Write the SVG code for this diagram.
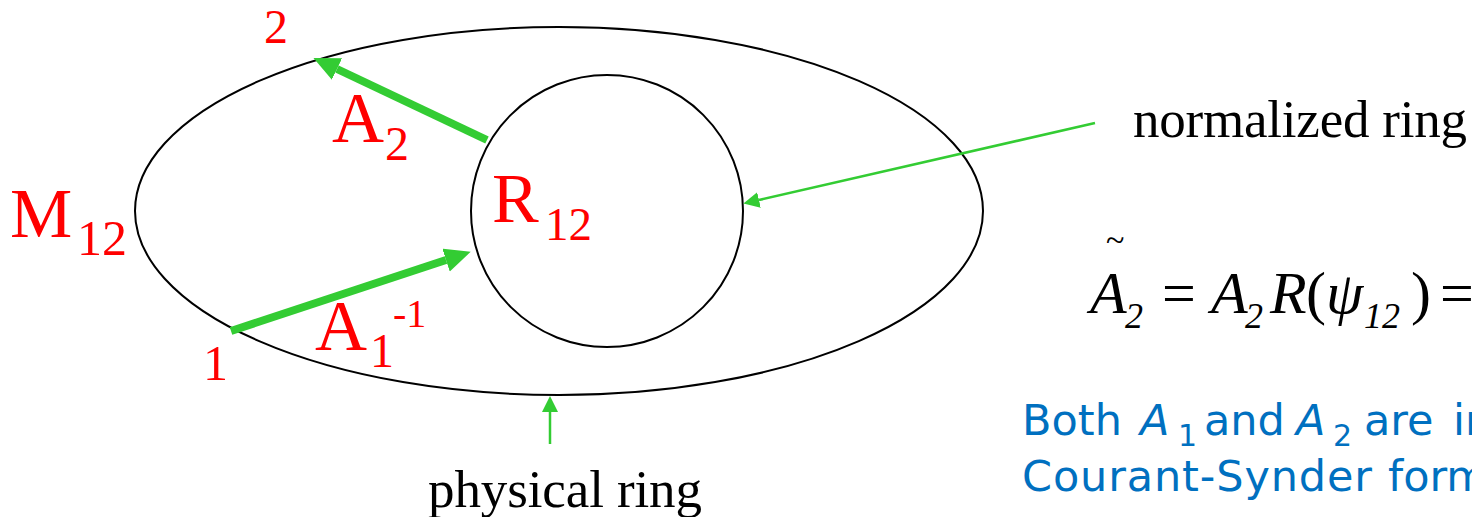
<svg xmlns="http://www.w3.org/2000/svg" width="1472" height="517" viewBox="0 0 1472 517">
<style>
.ring{fill:none;stroke:#000;stroke-width:2}
.red{fill:#ff0000;font-family:"Liberation Serif","Times New Roman",serif}
.blk{fill:#000;font-family:"Liberation Serif","Times New Roman",serif}
.eq{fill:#000;font-family:"Liberation Serif","Times New Roman",serif;font-style:italic}
.eqr{fill:#000;font-family:"Liberation Serif","Times New Roman",serif}
.blue{fill:#0070c0;font-family:"DejaVu Sans","Open Sans",sans-serif;font-size:43px}
.sub{font-size:30px}
.thick{stroke:#33cc33;stroke-width:8;fill:none}
.thin{stroke:#33cc33;stroke-width:2.5;fill:none}
</style>
<defs>
<marker id="hb" markerUnits="userSpaceOnUse" markerWidth="28" markerHeight="26" refX="0" refY="12" orient="auto">
<path d="M0,0 L26,12 L0,24 z" fill="#33cc33"/>
</marker>
<marker id="hs" markerUnits="userSpaceOnUse" markerWidth="18" markerHeight="18" refX="0" refY="8" orient="auto">
<path d="M0,0 L16,8 L0,16 z" fill="#33cc33"/>
</marker>
</defs>
<rect width="1472" height="517" fill="#fff"/>
<g id="physical-ring">
<ellipse class="ring" cx="559" cy="211" rx="424" ry="184"/>
</g>
<g id="normalized-ring">
<circle class="ring" cx="607" cy="211" r="136"/>
</g>
<g id="connectors">
<line class="thick" x1="487" y1="140" x2="337" y2="69" marker-end="url(#hb)"/>
<line class="thick" x1="231" y1="331" x2="446" y2="260" marker-end="url(#hb)"/>
<line class="thin" x1="1095" y1="123" x2="759" y2="200" marker-end="url(#hs)"/>
<line class="thin" x1="550" y1="444" x2="550" y2="412" marker-end="url(#hs)"/>
</g>
<g id="labels">
<text class="red" x="264" y="43" font-size="48">2</text>
<text class="red" x="203" y="380" font-size="50">1</text>
<text class="red" x="10" y="237" font-size="70">M</text>
<text class="red" x="77" y="255" font-size="50">12</text>
<text class="red" x="492" y="222" font-size="70">R</text>
<text class="red" x="545" y="240" font-size="47">12</text>
<text class="red" x="332" y="142" font-size="72">A</text>
<text class="red" x="385" y="160" font-size="48">2</text>
<text class="red" x="315" y="350" font-size="72">A</text>
<text class="red" x="370" y="367" font-size="48">1</text>
<text class="red" x="393" y="327" font-size="40">-1</text>
</g>
<g id="normalized-ring-label">
<text class="blk" x="1133" y="137" font-size="53" textLength="334">normalized ring</text>
</g>
<g id="physical-ring-label">
<text class="blk" x="428" y="507" font-size="53" textLength="274">physical ring</text>
</g>
<g id="equation">
<text class="eqr" x="1106" y="251" font-size="34">~</text>
<text class="eq" x="1090" y="313" font-size="60">A</text>
<text class="eq" x="1125" y="328" font-size="36">2</text>
<text class="eqr" x="1162" y="313" font-size="60">=</text>
<text class="eq" x="1211" y="313" font-size="60">A</text>
<text class="eq" x="1245" y="328" font-size="36">2</text>
<text class="eq" x="1270" y="313" font-size="60">R</text>
<text class="eqr" x="1306" y="313" font-size="60">(</text>
<text class="eq" x="1326" y="313" font-size="60">ψ</text>
<text class="eq" x="1364" y="328" font-size="36">12</text>
<text class="eqr" x="1411" y="313" font-size="60">)</text>
<text class="eqr" x="1440" y="313" font-size="60">=</text>
</g>
<g id="note">
<text class="blue" x="1022" y="435">Both</text>
<text class="blue" x="1140" y="435" font-size="46" font-style="italic">A</text>
<text class="blue sub" x="1178" y="446">1</text>
<text class="blue" x="1204" y="435">and</text>
<text class="blue" x="1296" y="435" font-size="46" font-style="italic">A</text>
<text class="blue sub" x="1333" y="446">2</text>
<text class="blue" x="1364" y="435">are</text>
<text class="blue" x="1453" y="435">in</text>
<text class="blue" x="1022" y="491" textLength="350">Courant-Synder</text>
<text class="blue" x="1388" y="491">form</text>
</g>
</svg>
